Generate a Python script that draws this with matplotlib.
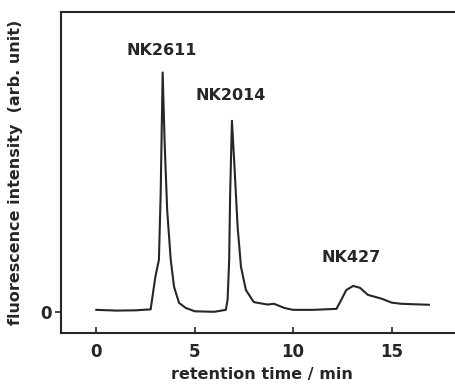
import matplotlib
matplotlib.use("Agg")
import matplotlib.pyplot as plt

# retention time (min) and fluorescence intensity (arb. unit)
time = [0.0, 1.0, 2.0, 2.76, 3.0, 3.18, 3.27, 3.37, 3.47, 3.6, 3.78, 3.95, 4.2, 4.54,
        5.0, 6.0, 6.58, 6.67, 6.75, 6.8, 6.89, 7.0, 7.18, 7.35, 7.6, 8.0, 8.7, 9.03,
        9.55, 10.0, 11.0, 12.2, 12.45, 12.7, 13.05, 13.4, 13.8, 14.5, 15.0, 15.5, 16.9]
intensity = [0.8, 0.5, 0.6, 1.0, 14.5, 21.5, 49.0, 99.0, 70.0, 42.0, 21.5, 10.3, 3.7, 1.6,
             0.2, 0.0, 0.8, 5.0, 21.5, 49.0, 79.0, 63.0, 35.0, 18.6, 9.0, 4.0, 3.0, 3.3,
             1.6, 0.8, 0.8, 1.2, 5.0, 9.0, 10.7, 9.9, 7.0, 5.4, 3.8, 3.3, 2.9]

peak_labels = ["NK2611", "NK2014", "NK427"]
label_x = [3.32, 6.84, 12.96]
label_y = [107.9, 89.3, 22.3]

xticks = [0, 5, 10, 15]
yticks = [0]

fig = plt.figure(figsize=(4.56, 3.87), dpi=100)
ax = fig.add_axes([0.134, 0.140, 0.88, 0.829])
ink = "#262626"
ax.plot(time, intensity, color=ink, lw=1.5)

ax.set_xlim(-1.79, 18.6)
ax.set_ylim(-8.7, 124)
ax.set_xticks(xticks)
ax.set_yticks(yticks)
ax.tick_params(axis="x", direction="in", length=4, width=1.2, colors=ink, pad=7)
ax.tick_params(axis="y", direction="out", length=4, width=1.2, colors=ink, pad=3)
for lab in ax.get_xticklabels() + ax.get_yticklabels():
    lab.set_fontsize(12)
    lab.set_fontweight("bold")
for s in ["left", "bottom", "top"]:
    ax.spines[s].set_linewidth(1.5)
    ax.spines[s].set_color(ink)
ax.spines["right"].set_visible(False)

for lab, lx, ly in zip(peak_labels, label_x, label_y):
    ax.text(lx, ly, lab, ha="center", va="center", fontsize=11.5,
            fontweight="bold", color=ink)

ax.set_xlabel("retention time / min", fontsize=11.5, fontweight="bold",
              color=ink, labelpad=5)
ax.set_ylabel("fluorescence intensity  (arb. unit)", fontsize=11.5,
              fontweight="bold", color=ink, labelpad=12)

fig.savefig("out.png", dpi=100)
